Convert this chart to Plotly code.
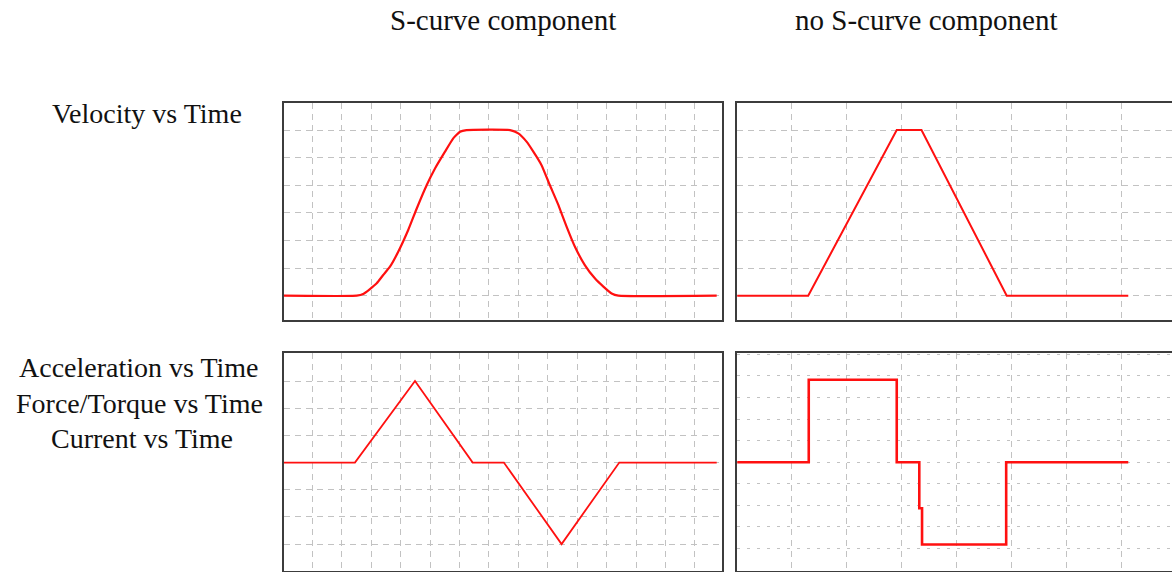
import plotly.graph_objects as go

W, H = 1172, 572

# ---- data ----
# S-curve velocity (top-left)
vel_s_x = [0.04, 2.51, 2.73, 2.96, 3.19, 3.41, 3.64, 3.92, 4.26, 4.55, 4.89, 5.17, 5.51, 5.79, 6.02, 6.24,
           7.72, 8.00, 8.28, 8.51, 8.79, 9.07, 9.36, 9.64, 9.92, 10.26, 10.60, 10.89, 11.17, 11.40, 14.74]
vel_s_y = [1.0, 1.0, 1.06, 1.24, 1.45, 1.75, 2.05, 2.59, 3.38, 4.16, 5.01, 5.61, 6.22, 6.70, 6.94, 7.0,
           7.0, 6.88, 6.58, 6.22, 5.73, 5.01, 4.29, 3.50, 2.78, 2.11, 1.63, 1.33, 1.08, 1.0, 1.0]
# S-curve acceleration (bottom-left)
acc_s_x = [0.04, 2.45, 4.49, 6.45, 7.51, 9.47, 11.43, 14.74]
acc_s_y = [0, 0, 3, 0, 0, -3, 0, 0]
# no S-curve velocity (top-right)
vel_n_x = [0.01, 1.30, 2.91, 3.36, 4.91, 7.12]
vel_n_y = [1, 1, 7, 7, 1, 1]
# no S-curve acceleration (bottom-right)
acc_n_x = [0.01, 1.31, 1.31, 2.91, 2.91, 3.32, 3.32, 3.37, 3.37, 4.90, 4.90, 7.12]
acc_n_y = [0, 0, 3.82, 3.82, 0, 0, -2.13, -2.13, -3.81, -3.81, 0, 0]

col_titles = ["S-curve component", "no S-curve component"]
row_labels = ["Velocity vs Time", "Acceleration vs Time", "Force/Torque vs Time", "Current vs Time"]

RED = "#ff1010"
GRID = "#c2c2c2"
BORDER = "#3c3c3c"

def px_x(p):
    return p / W

def px_y(p):
    return 1 - p / H

fig = go.Figure()
fig.add_trace(go.Scatter(x=vel_s_x, y=vel_s_y, mode="lines", line=dict(color=RED, width=2.2, shape="spline", smoothing=0.4),
                         xaxis="x", yaxis="y", showlegend=False, hoverinfo="skip"))
fig.add_trace(go.Scatter(x=vel_n_x, y=vel_n_y, mode="lines", line=dict(color=RED, width=2.0),
                         xaxis="x2", yaxis="y2", showlegend=False, hoverinfo="skip"))
fig.add_trace(go.Scatter(x=acc_s_x, y=acc_s_y, mode="lines", line=dict(color=RED, width=1.8),
                         xaxis="x3", yaxis="y3", showlegend=False, hoverinfo="skip"))
fig.add_trace(go.Scatter(x=acc_n_x, y=acc_n_y, mode="lines", line=dict(color=RED, width=2.6),
                         xaxis="x4", yaxis="y4", showlegend=False, hoverinfo="skip"))

left_dom = [px_x(284), px_x(722)]
right_dom = [px_x(736.7), 1.0]
top_dom = [px_y(320), px_y(103.3)]
bot_dom = [px_y(571), px_y(353)]

def xax(dom, rng, anchor, mirror=True):
    return dict(domain=dom, range=rng, anchor=anchor, showticklabels=False, ticks="",
                tick0=0, dtick=1, showgrid=True, gridcolor=GRID, gridwidth=1, griddash="6px,5px",
                zeroline=False, showline=True, linecolor=BORDER, linewidth=2, mirror=mirror,
                fixedrange=True)

def yax(dom, rng, anchor, mirror=True, dash="6px,5px"):
    return dict(domain=dom, range=rng, anchor=anchor, showticklabels=False, ticks="",
                tick0=0, dtick=1, showgrid=True, gridcolor=GRID, gridwidth=1, griddash=dash,
                zeroline=False, showline=True, linecolor=BORDER, linewidth=2, mirror=mirror,
                fixedrange=True)

fig.update_layout(
    width=W, height=H,
    margin=dict(l=0, r=0, t=0, b=0),
    paper_bgcolor="white", plot_bgcolor="white",
    xaxis=xax(left_dom, [0.04, 14.92], "y"),
    yaxis=yax(top_dom, [0.12, 7.97], "x"),
    xaxis2=xax(right_dom, [0, 7.915], "y2"),
    yaxis2=yax(top_dom, [0.12, 7.97], "x2", mirror=False),
    xaxis3=xax(left_dom, [0.04, 14.92], "y3"),
    yaxis3=yax(bot_dom, [-3.99, 4.03], "x3"),
    xaxis4=xax(right_dom, [0, 7.915], "y4"),
    yaxis4=yax(bot_dom, [-5.04, 5.06], "x4", mirror=False, dash="3px,7px"),
)

FONT = dict(family="Liberation Serif, Times New Roman, serif", size=28, color="#111111")
ann = [
    (503, 20, col_titles[0], 29),
    (926.5, 20, col_titles[1], 29),
    (147, 114, row_labels[0], 28),
    (139, 367, row_labels[1], 28),
    (139, 403, row_labels[2], 28),
    (142, 438, row_labels[3], 28),
]
for x, y, t, s in ann:
    f = dict(FONT)
    f["size"] = s
    fig.add_annotation(x=px_x(x), y=px_y(y), xref="paper", yref="paper", text=t,
                       showarrow=False, xanchor="center", yanchor="middle", font=f)

fig.write_html("out.html")
